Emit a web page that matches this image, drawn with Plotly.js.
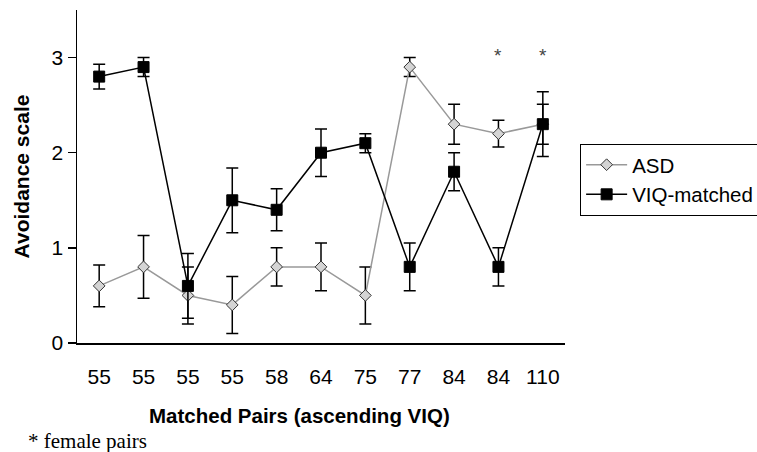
<!DOCTYPE html>
<html><head><meta charset="utf-8">
<script src="https://cdn.plot.ly/plotly-3.0.1.min.js"></script>
<style>html,body{margin:0;padding:0;overflow:hidden;background:#fff}</style>
</head><body><div id="chart" style="width:757px;height:452px"></div>
<script>
const pairLabels = ["55","55","55","55","58","64","75","77","84","84","110"];
const asdValues = [0.6, 0.8, 0.5, 0.4, 0.8, 0.8, 0.5, 2.9, 2.3, 2.2, 2.3];
const asdErrors = [0.22, 0.33, 0.3, 0.3, 0.2, 0.25, 0.3, 0.1, 0.21, 0.14, 0.21];
const viqValues = [2.8, 2.9, 0.6, 1.5, 1.4, 2.0, 2.1, 0.8, 1.8, 0.8, 2.3];
const viqErrors = [0.13, 0.1, 0.34, 0.34, 0.22, 0.25, 0.1, 0.25, 0.2, 0.2, 0.34];
const femalePairs = [9, 10];

const xIdx = pairLabels.map((_, i) => i);
const boundaries = pairLabels.map((_, i) => i - 0.5).concat([pairLabels.length - 0.5]);
const font = "Liberation Sans, Arial, sans-serif";

const traces = [
  {
    x: xIdx, y: asdValues, name: "ASD", type: "scatter", mode: "lines+markers",
    line: {color: "#999999", width: 1.5},
    marker: {symbol: "diamond", size: 9, color: "#d4d4d4", line: {color: "#333333", width: 1}},
    error_y: {type: "data", array: asdErrors, visible: true, color: "#000", thickness: 1.5, width: 6}
  },
  {
    x: xIdx, y: viqValues, name: "VIQ-matched", type: "scatter", mode: "lines+markers",
    line: {color: "#000000", width: 1.5},
    marker: {symbol: "square", size: 11, color: "#000", line: {color: "#000", width: 1}},
    error_y: {type: "data", array: viqErrors, visible: true, color: "#000", thickness: 1.5, width: 6}
  }
];

const annotations = femalePairs.map(i => ({
  x: i, y: 3.02, xref: "x", yref: "y", text: "*", showarrow: false,
  font: {family: font, size: 19, color: "#444"}
}));
annotations.push({
  x: 0.455, y: -0.217, xref: "paper", yref: "paper", text: "Matched Pairs (ascending VIQ)",
  showarrow: false, xanchor: "center", yanchor: "middle",
  font: {family: font, size: 20.5, color: "#000", weight: "bold"}
});
annotations.push({
  x: -0.104, y: -0.294, xref: "paper", yref: "paper", text: "* female pairs",
  showarrow: false, xanchor: "left", yanchor: "middle",
  font: {family: "Liberation Serif, Times New Roman, serif", size: 21, color: "#000"}
});

const layout = {
  width: 757, height: 452,
  margin: {l: 77, r: 192, t: 10, b: 109, autoexpand: false},
  paper_bgcolor: "#fff", plot_bgcolor: "#fff",
  showlegend: true,
  legend: {
    x: 1.031, y: 0.598, xanchor: "left", yanchor: "top",
    bordercolor: "#000", borderwidth: 1, bgcolor: "#fff", itemwidth: 41,
    font: {family: font, size: 20.5, color: "#000"}
  },
  xaxis: {
    range: [-0.5, pairLabels.length - 0.5], tickmode: "array", tickvals: xIdx, ticktext: pairLabels,
    ticks: "", ticklabelstandoff: 14, showline: true, linecolor: "#000", linewidth: 1.5, showgrid: false, zeroline: false,
    tickfont: {family: font, size: 21, color: "#000"}, fixedrange: true
  },
  xaxis2: {
    overlaying: "x", anchor: "y", side: "bottom",
    range: [-0.5, pairLabels.length - 0.5], tickmode: "array", tickvals: boundaries,
    ticks: "outside", ticklen: 7, tickwidth: 1.5, tickcolor: "#000",
    showticklabels: false, showline: false, showgrid: false, zeroline: false
  },
  yaxis: {
    range: [0, 3.5], tickmode: "array", tickvals: [0, 1, 2, 3],
    ticks: "outside", ticklen: 8, tickwidth: 1.5, tickcolor: "#000",
    showline: true, linecolor: "#000", linewidth: 1.5, showgrid: false, zeroline: false,
    tickfont: {family: font, size: 21, color: "#000"},
    title: {text: "Avoidance scale", font: {family: font, size: 21, color: "#000", weight: "bold"}, standoff: 16}
  },
  annotations: annotations
};

Plotly.newPlot("chart", traces, layout, {displayModeBar: false, staticPlot: true});
</script></body></html>
